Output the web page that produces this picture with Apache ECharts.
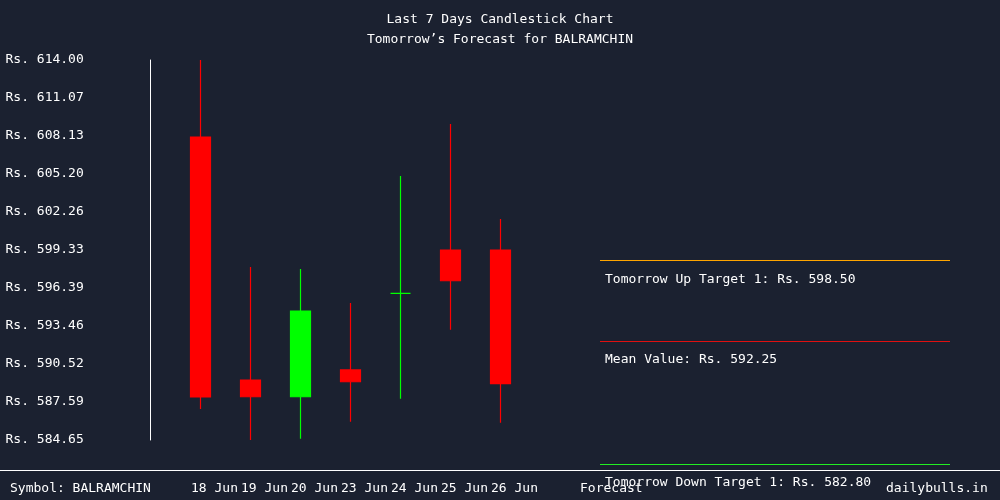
<!DOCTYPE html>
<html>
<head>
<meta charset="utf-8">
<script src="https://cdn.jsdelivr.net/npm/echarts@6/dist/echarts.min.js"></script>
<style>html,body{margin:0;padding:0;background:#1b2130;}#c{width:1000px;height:500px;}</style>
</head>
<body>
<div id="c"></div>
<script>
const symbol = 'BALRAMCHIN';
const dates = ['18 Jun', '19 Jun', '20 Jun', '23 Jun', '24 Jun', '25 Jun', '26 Jun'];
// [open, close, low, high]
const opens  = [608.05, 589.28, 587.99, 590.06, 595.98, 599.32, 599.32];
const closes = [587.97, 587.99, 594.61, 589.15, 595.98, 596.95, 589.00];
const lows   = [587.04, 584.65, 584.75, 586.06, 587.84, 593.17, 585.99];
const highs  = [614.00, 598.01, 597.86, 595.23, 605.04, 609.06, 601.72];
const yTicks = [584.65, 587.59, 590.52, 593.46, 596.39, 599.33, 602.26, 605.20, 608.13, 611.07, 614.00];
const upTarget = 598.50;
const meanValue = 592.25;
const downTarget = 582.80;

const FONT = 'DejaVu Sans Mono';
const candleData = dates.map((d, i) => [opens[i], closes[i], lows[i], highs[i]]);

function targetLine(value, color, text) {
  return {
    type: 'line', xAxisIndex: 1, yAxisIndex: 1, data: [], silent: true,
    markLine: {
      silent: true, symbol: 'none', animation: false,
      lineStyle: { color: color, width: 1.2, type: 'solid', opacity: 1 },
      emphasis: { disabled: true },
      label: { show: true, position: 'insideStartBottom', formatter: text,
               color: '#ffffff', fontFamily: FONT, fontSize: 13, distance: [5, 12] },
      data: [{ yAxis: value }]
    }
  };
}

const txt = { color: '#ffffff', fontFamily: FONT, fontSize: 13, fontWeight: 'normal' };
const chart = echarts.init(document.getElementById('c'), null, { renderer: 'canvas' });
chart.setOption({
  backgroundColor: '#1b2130',
  animation: false,
  title: [
    { text: 'Last 7 Days Candlestick Chart\nTomorrow\u2019s Forecast for ' + symbol, left: 'center', top: 10, padding: 0,
      textStyle: Object.assign({ lineHeight: 20 }, txt) },
    { text: 'Symbol: ' + symbol, left: 10, top: 482, padding: 0, textStyle: txt },
    { text: 'Forecast', left: 580, top: 482, padding: 0, textStyle: txt },
    { text: 'dailybulls.in', left: 886, top: 482, padding: 0, textStyle: txt }
  ],
  grid: [
    { left: 175.5, width: 350, top: 60, height: 380 },
    { left: 600, width: 350, top: 60, height: (614 - downTarget) * 380 / (614 - 584.65) }
  ],
  xAxis: [
    { type: 'category', gridIndex: 0, data: dates, boundaryGap: true,
      axisLine: { show: false }, axisTick: { show: false }, splitLine: { show: false },
      axisLabel: { interval: 0, color: '#ffffff', fontFamily: FONT, fontSize: 13, margin: 42,
                   padding: [0, 0, 0, 28] } },
    { type: 'value', gridIndex: 1, min: 0, max: 1, show: false }
  ],
  yAxis: [
    { type: 'value', gridIndex: 0, min: 584.65, max: 614.00, offset: 25,
      axisLine: { show: true, lineStyle: { color: '#ffffff', width: 1 } },
      axisTick: { show: false }, splitLine: { show: false },
      axisLabel: { customValues: yTicks, color: '#ffffff', fontFamily: FONT, fontSize: 13,
                   align: 'left', margin: 145, formatter: v => 'Rs. ' + v.toFixed(2) } },
    { type: 'value', gridIndex: 1, min: downTarget, max: 614.00, show: false }
  ],
  series: [
    { type: 'candlestick', xAxisIndex: 0, yAxisIndex: 0, data: candleData, barWidth: 21,
      itemStyle: { color: '#00ff00', color0: '#ff0000', borderColor: '#00ff00', borderColor0: '#ff0000', borderWidth: 1.2 } },
    targetLine(upTarget, '#ffa500', 'Tomorrow Up Target 1: Rs. ' + upTarget.toFixed(2)),
    targetLine(meanValue, '#e01010', 'Mean Value: Rs. ' + meanValue.toFixed(2)),
    targetLine(downTarget, '#22ee22', 'Tomorrow Down Target 1: Rs. ' + downTarget.toFixed(2))
  ],
  graphic: [
    { type: 'line', shape: { x1: 0, y1: 470.5, x2: 1000, y2: 470.5 }, style: { stroke: '#ffffff', lineWidth: 1 }, silent: true }
  ]
});
</script>
</body>
</html>
